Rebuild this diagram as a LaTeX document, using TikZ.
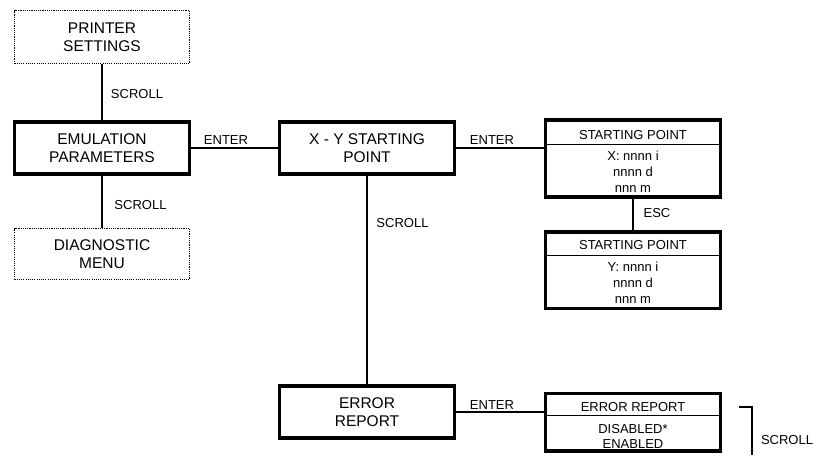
\documentclass[tikz,border=0pt]{standalone}
\usepackage{fontspec}
\setmainfont{Liberation Sans}
\begin{document}
\begin{tikzpicture}[x=1pt,y=-1pt,
  bigtext/.style={font=\fontsize{15.5}{18.3}\selectfont, align=center},
  smalltext/.style={font=\fontsize{13}{16}\selectfont, align=center, inner sep=0pt},
  mainbox/.style={draw, line width=3.5pt, minimum width=175pt, minimum height=52pt, inner sep=0pt, bigtext},
  otherbox/.style={draw, line width=1.1pt, dash pattern=on 1.1pt off 1.1pt, minimum width=175pt, inner sep=0pt, bigtext},
  menubox/.style={draw, line width=3.5pt, minimum width=175pt, inner sep=0pt},
  divider/.style={line width=1pt},
  link/.style={line width=1.3pt},
  lbl/.style={smalltext}
]
\useasboundingbox (0,0) rectangle (813,455);

% main menu column
\node[otherbox, minimum height=53pt] (ps) at (102,37) {PRINTER\\SETTINGS};
\node[mainbox] (emu) at (102,148) {EMULATION\\PARAMETERS};
\node[otherbox, minimum height=51pt] (diag) at (102,254) {DIAGNOSTIC\\MENU};

% sub menu column
\node[mainbox] (xy) at (367,148) {X - Y STARTING\\POINT};
\node[mainbox] (err) at (367,412) {ERROR\\REPORT};

% display boxes: starting point X
\node[menubox, minimum height=77pt] (sp1) at (633,158.7) {};
\node[smalltext] (sp1t) at (633,134.7) {STARTING POINT};
\coordinate (sp1d) at (633,144);
\draw[divider] (sp1d -| sp1.west) -- (sp1d -| sp1.east);
\node[smalltext] (sp1b) at (633,172) {X: nnnn i\\nnnn d\\nnn m};

% display boxes: starting point Y
\node[menubox, minimum height=76.5pt] (sp2) at (633,270) {};
\node[smalltext] (sp2t) at (633,245.3) {STARTING POINT};
\coordinate (sp2d) at (633,255);
\draw[divider] (sp2d -| sp2.west) -- (sp2d -| sp2.east);
\node[smalltext] (sp2b) at (633,282.7) {Y: nnnn i\\nnnn d\\nnn m};

% display box: error report
\node[menubox, minimum height=57.5pt] (erm) at (633,422.2) {};
\node[smalltext] (ermt) at (633,407) {ERROR REPORT};
\coordinate (ermd) at (633,415.7);
\draw[divider] (ermd -| erm.west) -- (ermd -| erm.east);
\node[smalltext, font=\fontsize{13}{15}\selectfont] (ermb) at (633,436.3) {DISABLED*\\ENABLED};

% connectors
\draw[link] (ps.south) -- (emu.north);
\draw[link] (emu.south) -- (diag.north);
\draw[link] (emu.east) -- (xy.west);
\draw[link] (xy.east) -- (xy.east -| sp1.west);
\draw[link] (xy.south) -- (err.north);
\draw[link] (sp1.south) -- (sp2.north);
\draw[link] (err.east) -- (err.east -| erm.west);

% scroll bracket
\coordinate (brA) at (739,407);
\coordinate (brB) at (752,407);
\coordinate (brC) at (752,455);
\draw[link] (brA) -- (brB) -- (brC);

% connector labels
\node[lbl] (s1) at (137,94) {SCROLL};
\node[lbl] (s2) at (140.5,205) {SCROLL};
\node[lbl] (e1) at (226,140) {ENTER};
\node[lbl] (e2) at (492,140) {ENTER};
\node[lbl] (s3) at (402.5,223) {SCROLL};
\node[lbl] (esc) at (657,212.7) {ESC};
\node[lbl] (e3) at (492,405) {ENTER};
\node[lbl] (s4) at (787,440.5) {SCROLL};
\end{tikzpicture}
\end{document}
